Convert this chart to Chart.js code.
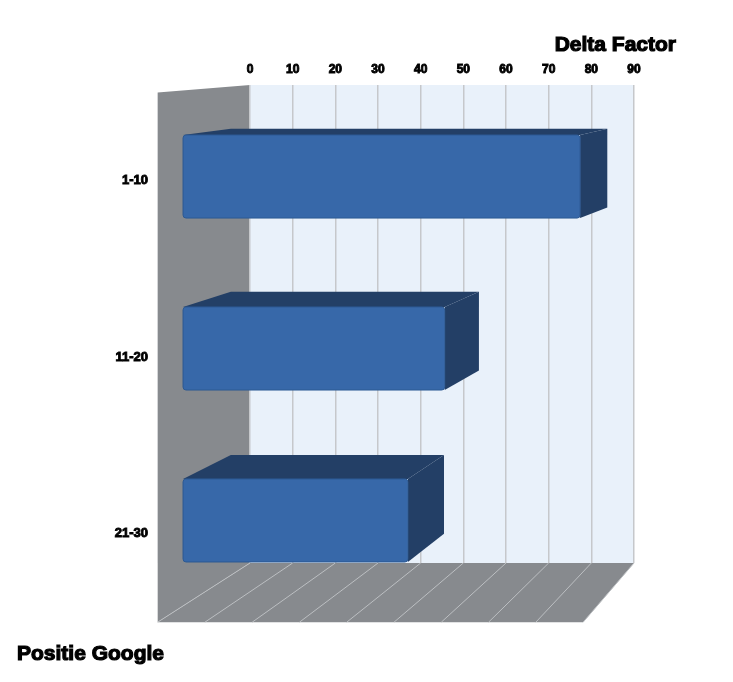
<!DOCTYPE html>
<html>
<head>
<meta charset="utf-8">
<style>
  body { margin: 0; background: #ffffff; }
  #wrap { width: 733px; height: 682px; }
</style>
<script src="https://cdn.jsdelivr.net/npm/chart.js@4.4.0/dist/chart.umd.min.js"></script>
</head>
<body>
<div id="wrap"><canvas id="grafico" width="733" height="682"></canvas></div>
<script>
// Dados
const posities = ["1-10", "11-20", "21-30"];
const deltaFactor = [86.4, 57, 49];
const schaalMin = 0;
const schaalMax = 90;
const schaalStap = 10;

// Kleuren
const kleurMuur = "#878a8e";
const kleurAchterwand = "#e9f1fa";
const kleurRaster = "#c6c8cb";
const kleurVoorkant = "#3768a9";
const kleurDonker = "#233f66";
const lettertype = "'Liberation Sans', Arial, sans-serif";

// eenvoudige perspectief: achterwand -> voorkant
const vp = { x: 1105, y: 15 };
const diepteSchaal = 0.108;
const balkDiepte = [0.216, 0.734];

function projecteer(x, y, z) {
  const s = 1 + diepteSchaal * z;
  return [vp.x + s * (x - vp.x), vp.y + s * (y - vp.y)];
}

function poly(ctx, pts, kleur) {
  ctx.beginPath();
  ctx.moveTo(pts[0][0], pts[0][1]);
  for (let i = 1; i < pts.length; i++) ctx.lineTo(pts[i][0], pts[i][1]);
  ctx.closePath();
  ctx.fillStyle = kleur;
  ctx.fill();
}

// vette tekst (gevuld + dunne rand)
function tekst(ctx, t, x, y, rand) {
  ctx.fillText(t, x, y);
  ctx.lineWidth = rand;
  ctx.strokeStyle = "#000";
  ctx.strokeText(t, x, y);
}

const driedPlugin = {
  id: "driedee",
  beforeDraw(chart) {
    const { ctx, chartArea: a, scales } = chart;
    ctx.save();
    // achterwand
    ctx.fillStyle = kleurAchterwand;
    ctx.fillRect(a.left, a.top, a.right - a.left, a.bottom - a.top);
    // zijwand
    poly(ctx, [projecteer(a.left, a.top, 0), projecteer(a.left, a.top, 1),
               projecteer(a.left, a.bottom, 1), projecteer(a.left, a.bottom, 0)], kleurMuur);
    // vloer
    poly(ctx, [projecteer(a.left, a.bottom, 0), projecteer(a.right, a.bottom, 0),
               projecteer(a.right, a.bottom, 1), projecteer(a.left, a.bottom, 1)], kleurMuur);
    // lijnen op de vloer
    ctx.strokeStyle = "#bcbfc2";
    ctx.lineWidth = 1;
    scales.x.ticks.forEach((t, i) => {
      const px = scales.x.getPixelForTick(i);
      const p0 = projecteer(px, a.bottom, 0);
      const p1 = projecteer(px, a.bottom, 1);
      ctx.beginPath();
      ctx.moveTo(p0[0], p0[1]);
      ctx.lineTo(p1[0], p1[1]);
      ctx.stroke();
    });
    ctx.restore();
  },
  afterDatasetsDraw(chart) {
    const { ctx } = chart;
    const [zb, zf] = balkDiepte;
    ctx.save();
    chart.getDatasetMeta(0).data.forEach(el => {
      const x0 = el.base, x1 = el.x;
      const y0 = el.y - el.height / 2, y1 = el.y + el.height / 2;
      const ftl = projecteer(x0, y0, zf), ftr = projecteer(x1, y0, zf);
      const fbr = projecteer(x1, y1, zf);
      const btl = projecteer(x0, y0, zb), btr = projecteer(x1, y0, zb);
      const bbr = projecteer(x1, y1, zb);
      // bovenkant en zijkant
      poly(ctx, [ftl, ftr, btr, btl], kleurDonker);
      poly(ctx, [ftr, btr, bbr, fbr], kleurDonker);
      // voorkant
      ctx.beginPath();
      ctx.roundRect(ftl[0], ftl[1], fbr[0] - ftl[0], fbr[1] - ftl[1], 3);
      ctx.fillStyle = kleurVoorkant;
      ctx.fill();
      ctx.strokeStyle = "#2c5993";
      ctx.lineWidth = 1;
      ctx.stroke();
    });
    ctx.restore();
  },
  afterDraw(chart) {
    const { ctx, scales } = chart;
    ctx.save();
    ctx.fillStyle = "#000";
    // categorie labels (voorvlak)
    ctx.font = "bold 13px " + lettertype;
    ctx.textAlign = "right";
    ctx.textBaseline = "middle";
    posities.forEach((lab, i) => {
      const p = projecteer(0, scales.y.getPixelForTick(i), 1);
      tekst(ctx, lab, 148, p[1], 0.9);
    });
    // as titels
    ctx.font = "bold 21px " + lettertype;
    ctx.textAlign = "right";
    tekst(ctx, "Delta Factor", 676, 45, 1.2);
    ctx.textAlign = "left";
    tekst(ctx, "Positie Google", 17, 654, 1.2);
    ctx.restore();
  }
};

const ctx = document.getElementById("grafico").getContext("2d");

new Chart(ctx, {
  type: "bar",
  data: {
    labels: posities,
    datasets: [{
      data: deltaFactor,
      backgroundColor: "rgba(0,0,0,0)",
      borderWidth: 0,
      categoryPercentage: 1,
      barPercentage: 0.483
    }]
  },
  options: {
    indexAxis: "y",
    responsive: false,
    animation: false,
    events: [],
    layout: { padding: { left: 250, right: 99, top: 55, bottom: 119 } },
    plugins: {
      legend: { display: false },
      tooltip: { enabled: false }
    },
    scales: {
      x: {
        position: "top",
        min: schaalMin,
        max: schaalMax,
        afterFit: s => { s.height = 30; },
        ticks: {
          stepSize: schaalStap,
          color: "#000",
          padding: 8,
          textStrokeColor: "#000",
          textStrokeWidth: 0.9,
          font: { family: lettertype, size: 12, weight: "bold" }
        },
        grid: { color: kleurRaster, lineWidth: 1.5, drawTicks: false },
        border: { display: false }
      },
      y: { display: false }
    }
  },
  plugins: [driedPlugin]
});
</script>
</body>
</html>
